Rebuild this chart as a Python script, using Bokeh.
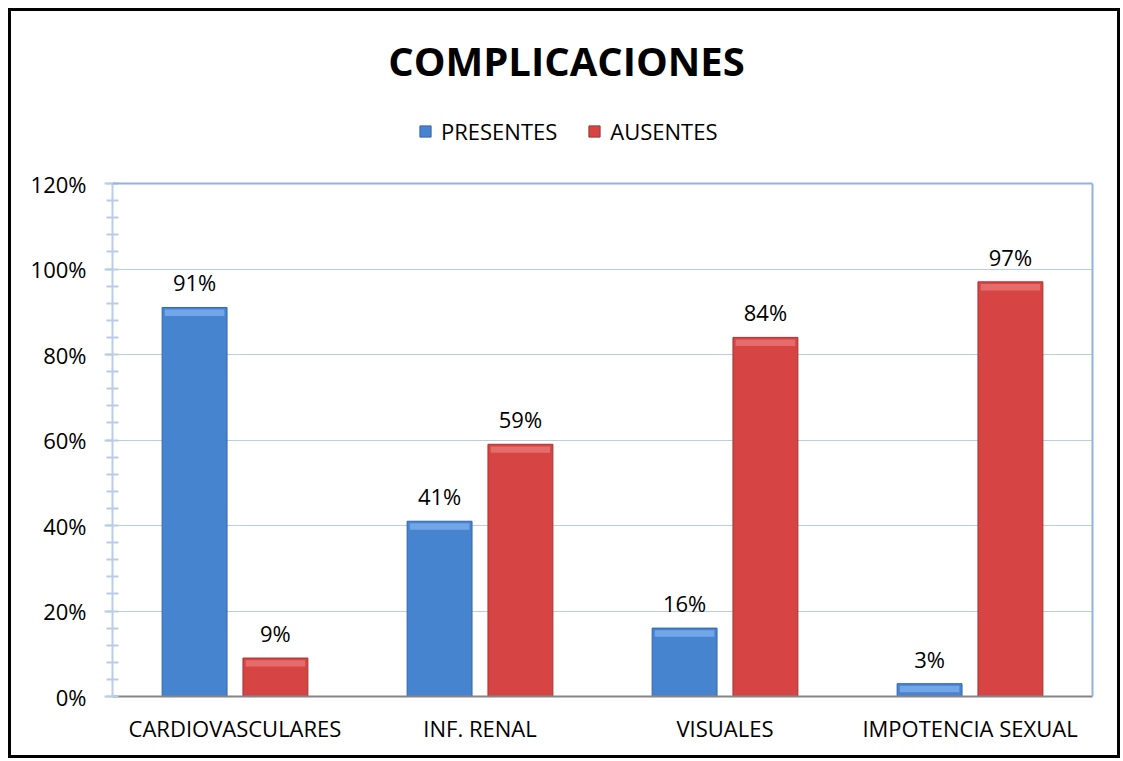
from bokeh.plotting import figure
from bokeh.models import (ColumnDataSource, FactorRange, Range1d, FixedTicker,
                          PrintfTickFormatter, LabelSet, Label, Legend, LegendItem,
                          LinearAxis, Span)
from bokeh.transform import dodge
from bokeh.core.properties import value
from bokeh.embed import file_html
from bokeh.resources import INLINE

categories = ["CARDIOVASCULARES", "INF. RENAL", "VISUALES", "IMPOTENCIA SEXUAL"]
presentes = [91, 41, 16, 3]
ausentes = [9, 59, 84, 97]
y_ticks = [0, 20, 40, 60, 80, 100, 120]
title_text = "COMPLICACIONES"
series_names = ["PRESENTES", "AUSENTES"]

FONT = "Open Sans"
BAR_W = 0.265
OFF = 0.165
INNER_W = BAR_W - 0.022
Y_TOP = y_ticks[-1]
# frame extends above the 120% line to hold the title and legend
Y_MAX = Y_TOP * 685 / 513

src = ColumnDataSource(dict(
    cat=categories,
    p=presentes,
    a=ausentes,
    p_top=[v - 0.5 for v in presentes],
    a_top=[v - 0.5 for v in ausentes],
    p_band=[max(v - 2.0, 0.4) for v in presentes],
    a_band=[max(v - 2.0, 0.4) for v in ausentes],
    p_lab=[f"{v}%" for v in presentes],
    a_lab=[f"{v}%" for v in ausentes],
))

p = figure(width=1112, height=750, x_range=FactorRange(*categories),
           y_range=Range1d(0, Y_MAX), output_backend="svg", toolbar_location=None,
           min_border_left=101, min_border_right=31, min_border_top=0,
           min_border_bottom=65, title=None)
p.styles = {"border": "3px solid black", "margin-left": "8px", "margin-top": "8px",
            "background-color": "white"}
p.background_fill_color = "white"
p.border_fill_color = None
p.outline_line_color = None

# grid
p.xgrid.grid_line_color = None
p.ygrid.ticker = FixedTicker(ticks=y_ticks)
p.ygrid.grid_line_color = "#B9CDE5"
p.ygrid.grid_line_width = 1
p.add_layout(Span(location=Y_TOP, dimension="width", line_color="#8EB4E3",
                  line_width=2))

# y axis
yax = p.yaxis[0]
yax.bounds = (0, Y_TOP)
yax.ticker = FixedTicker(ticks=y_ticks, minor_ticks=list(range(0, Y_TOP + 1, 4)))
yax.formatter = PrintfTickFormatter(format="%d%%")
yax.axis_line_color = "#B9CDE5"
yax.axis_line_width = 2
yax.major_tick_line_color = "#B9CDE5"
yax.major_tick_line_width = 2
yax.major_tick_out = 8
yax.major_tick_in = 0
yax.minor_tick_line_color = "#B9CDE5"
yax.minor_tick_line_width = 2
yax.minor_tick_out = 6
yax.minor_tick_in = 6
yax.major_label_text_font = FONT
yax.major_label_text_font_size = "22px"
yax.major_label_text_color = "black"
yax.major_label_standoff = 18

# right border of the plot area
rax = LinearAxis(bounds=(0, Y_TOP), ticker=FixedTicker(ticks=[]),
                 axis_line_color="#8EB4E3", axis_line_width=2,
                 major_tick_line_color=None, minor_tick_line_color=None,
                 major_label_text_color=None)
p.add_layout(rax, "right")

# x axis
xax = p.xaxis[0]
xax.axis_line_color = "#868686"
xax.axis_line_width = 2
xax.major_tick_line_color = None
xax.minor_tick_line_color = None
xax.major_label_text_font = FONT
xax.major_label_text_font_size = "22px"
xax.major_label_text_color = "black"
xax.major_label_standoff = 10

blue = dict(edge="#3566AC", main="#4784D0", light="#72A6E6")
red = dict(edge="#A83232", main="#D64444", light="#E66C6C")

renderers = []
for key, off, col in (("p", -OFF, blue), ("a", OFF, red)):
    xs = dodge("cat", off, range=p.x_range)
    r = p.vbar(x=xs, top=key, width=BAR_W, bottom=0, source=src,
               fill_color=col["main"], line_color=col["edge"], line_width=1)
    p.vbar(x=xs, top=f"{key}_top", width=INNER_W, bottom=0, source=src,
           fill_color=col["main"], line_color=None)
    p.vbar(x=xs, top=f"{key}_top", bottom=f"{key}_band", width=INNER_W, source=src,
           fill_color=col["light"], line_color=None)
    renderers.append(r)
    lab = LabelSet(x=dodge("cat", off, range=p.x_range), y=key, text=f"{key}_lab",
                   source=src, text_align="center", text_baseline="middle",
                   y_offset=25, text_font=value(FONT), text_font_size=value("22px"),
                   text_color="black")
    p.add_layout(lab)

legend = Legend(items=[LegendItem(label=series_names[0], renderers=[renderers[0]]),
                       LegendItem(label=series_names[1], renderers=[renderers[1]])],
                orientation="horizontal", location=(306, 550),
                glyph_width=14, glyph_height=14, label_standoff=9, spacing=30,
                padding=0, margin=0, border_line_color=None,
                background_fill_alpha=0, label_text_font=FONT,
                label_text_font_size="22px", label_text_color="black")
p.add_layout(legend, "center")

title = Label(x=454, y=636, x_units="screen", y_units="screen", text=title_text,
              text_align="center", text_baseline="middle", text_font=FONT,
              text_font_size="40px", text_font_style="bold", text_color="black")
p.add_layout(title)

open("out.html", "w").write(file_html(p, INLINE))
